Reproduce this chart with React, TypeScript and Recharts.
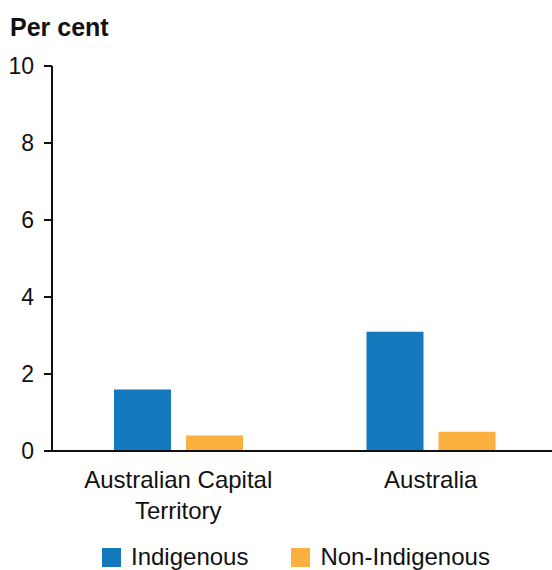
import { BarChart, Bar, XAxis, YAxis } from 'recharts'

const categories = ['Australian Capital Territory', 'Australia']
const indigenous = [1.6, 3.1]
const nonIndigenous = [0.4, 0.5]
const yTicks = [0, 2, 4, 6, 8, 10]

const data = categories.map((name, i) => ({
  name,
  indigenous: indigenous[i],
  nonIndigenous: nonIndigenous[i],
}))

const BLUE = '#1579BD'
const ORANGE = '#FBB040'
const FONT = '"Liberation Sans", Arial, sans-serif'

function CategoryTick({ x, y, payload }: any) {
  const words = String(payload.value).split(' ')
  const lines = words.length > 2 ? [words.slice(0, -1).join(' '), words[words.length - 1]] : [words.join(' ')]
  return (
    <text x={x} y={y} textAnchor="middle" fill="#111" fontSize={24} fontFamily={FONT}>
      {lines.map((l, i) => (
        <tspan key={i} x={x} dy={i === 0 ? 29 : 31}>
          {l}
        </tspan>
      ))}
    </text>
  )
}

function ChartLegend() {
  const items = [
    { label: 'Indigenous', color: BLUE },
    { label: 'Non-Indigenous', color: ORANGE },
  ]
  return (
    <div style={{ position: 'absolute', left: 102, top: 543, display: 'flex', gap: 43, fontFamily: FONT, fontSize: 24, color: '#111', lineHeight: '28px' }}>
      {items.map((it) => (
        <div key={it.label} style={{ display: 'flex', alignItems: 'center' }}>
          <span style={{ width: 19, height: 19, background: it.color, display: 'inline-block', marginRight: 10 }} />
          <span>{it.label}</span>
        </div>
      ))}
    </div>
  )
}

export default function App() {
  return (
    <div style={{ position: 'absolute', left: 0, top: 0, width: 552, height: 570, overflow: 'hidden', background: '#fff' }}>
      <div style={{ position: 'absolute', left: 10, top: 13, fontFamily: FONT, fontWeight: 'bold', fontSize: 25, color: '#111' }}>
        Per cent
      </div>
      <BarChart
        width={557}
        height={570}
        data={data}
        margin={{ top: 66, right: 0, bottom: 0, left: 0 }}
        barSize={57}
        barGap={15}
      >
        <YAxis
          width={52}
          domain={[0, 10]}
          ticks={yTicks}
          tickSize={8}
          tickMargin={10}
          axisLine={{ stroke: '#111', strokeWidth: 2 }}
          tickLine={{ stroke: '#111', strokeWidth: 2 }}
          tick={{ fill: '#111', fontSize: 23, fontFamily: FONT }}
        />
        <XAxis
          dataKey="name"
          height={119}
          tickLine={false}
          axisLine={{ stroke: '#111', strokeWidth: 2 }}
          tick={<CategoryTick />}
          interval={0}
        />
        <Bar dataKey="indigenous" name="Indigenous" fill={BLUE} isAnimationActive={false} />
        <Bar dataKey="nonIndigenous" name="Non-Indigenous" fill={ORANGE} isAnimationActive={false} />
      </BarChart>
      <ChartLegend />
    </div>
  )
}
